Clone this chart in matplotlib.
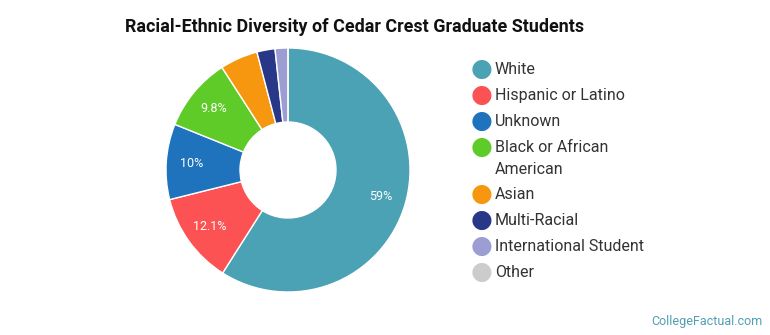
import numpy as np
import matplotlib.pyplot as plt

plt.rcParams['font.family'] = ['Roboto', 'DejaVu Sans']

# data
labels = ['White', 'Hispanic or Latino', 'Unknown', 'Black or African\nAmerican',
          'Asian', 'Multi-Racial', 'International Student', 'Other']
shares = [59.0, 12.1, 10.0, 9.8, 5.0, 2.4, 1.7, 0.0]
colors = ['#4aa2b4', '#fc5253', '#1f73bd', '#5ecb28', '#f7960f', '#283788', '#9c9dd2', '#cccccc']

fig = plt.figure(figsize=(7.7, 3.35), dpi=100)

# donut
ax = fig.add_axes([(288 - 122) / 770, (335 - 170 - 122) / 335, 244 / 770, 244 / 335])
wedges, _ = ax.pie(shares, colors=colors, startangle=90, counterclock=False,
                   radius=1.0, wedgeprops=dict(width=1 - 48 / 122, edgecolor='white', linewidth=1))
total = sum(shares)
start = 90.0
for s in shares:
    ang = np.deg2rad(start - s / total * 360 / 2)
    if s >= 9:
        ax.text(0.79 * np.cos(ang), 0.79 * np.sin(ang), f'{s:g}%', color='white',
                ha='center', va='center', fontsize=9)
    start -= s / total * 360
ax.set_xlim(-1, 1)
ax.set_ylim(-1, 1)
ax.set_aspect('equal')
ax.axis('off')

fig.text(125 / 770, 1 - 27 / 335, 'Racial-Ethnic Diversity of Cedar Crest Graduate Students',
         fontsize=12.9, fontweight='bold', ha='left', va='center', color='#111111')

# legend (drawn by hand so the two-line entry wraps like the original)
y = 69
for lab, c in zip(labels, colors):
    fig.text(482 / 770, 1 - y / 335, '\u25cf', color=c, fontsize=18, ha='center', va='center',
             family='DejaVu Sans')
    fig.text(495 / 770, 1 - (y - 7) / 335, lab, fontsize=11.5, ha='left', va='top',
             color='#333333', linespacing=1.55)
    y += 26 + 21 * lab.count('\n')

fig.text(763 / 770, 1 - 321 / 335, 'CollegeFactual.com', fontsize=9, ha='right',
         va='center', color='#4f9fb4')

fig.savefig('out.png', dpi=100, facecolor='white')
